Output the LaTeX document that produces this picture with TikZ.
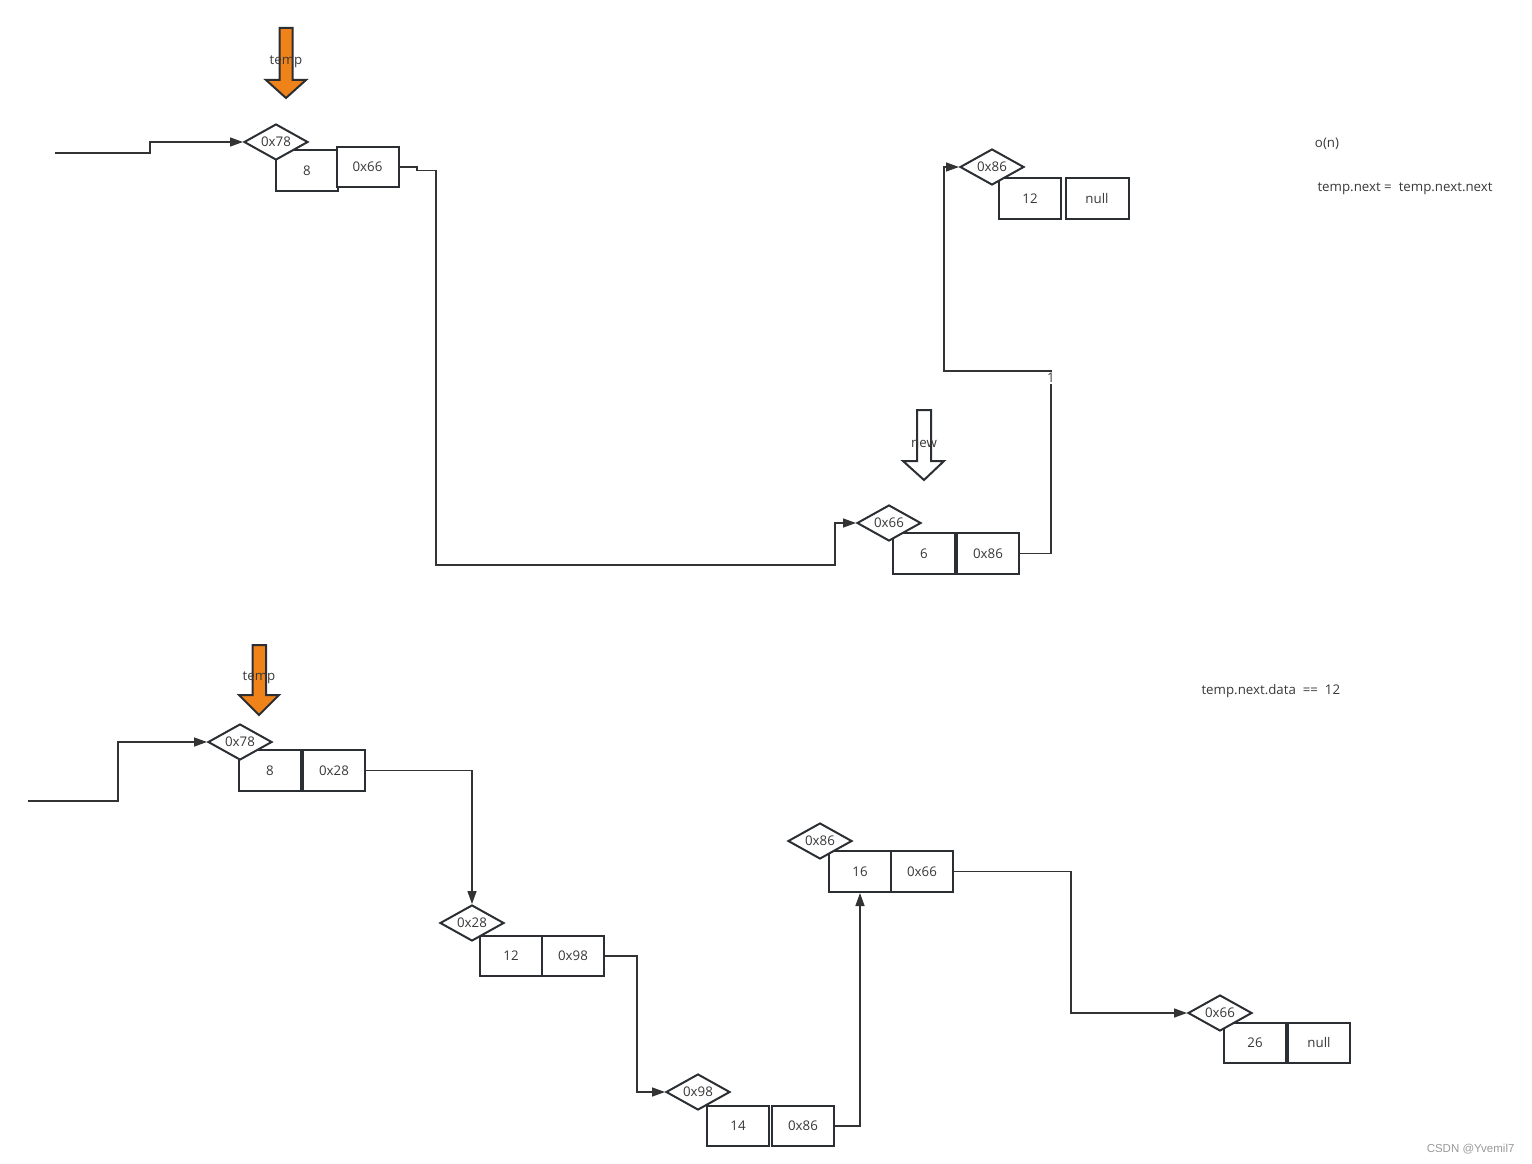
\documentclass[tikz,border=0pt]{standalone}
\usepackage{fontspec}
\setmainfont{Open Sans}
\newfontfamily\wmfont{Liberation Sans}
\usetikzlibrary{shapes.geometric,arrows.meta}
\definecolor{ink}{HTML}{2B2F33}
\definecolor{txt}{HTML}{383838}
\definecolor{wire}{HTML}{333333}
\definecolor{orangeA}{HTML}{F0821A}
\begin{document}
\begin{tikzpicture}[x=1pt,y=-1pt,
  every node/.style={font=\fontsize{13.3}{15}\selectfont, text=txt},
  cell/.style={draw=ink, line width=2pt, fill=white, minimum width=62pt, minimum height=41pt, inner sep=0pt},
  addr/.style={diamond, draw=ink, line width=2pt, fill=white, minimum width=64pt, minimum height=36pt, inner sep=0pt, aspect=1.8},
  link/.style={draw=wire, line width=1.4pt, -{Triangle[length=13pt,width=9pt]}},
  hot/.style={fill=orangeA, draw=ink, line width=2pt, line join=miter},
  cold/.style={fill=white, draw=ink, line width=2pt, line join=miter}
]
\useasboundingbox (0,0) rectangle (1532,1164);

% ---------- top part ----------
\filldraw[hot] (279.5,28) -- (292.5,28) -- (292.5,80) -- (306,80) -- (286,98) -- (266,80) -- (279.5,80) -- cycle;
\node (t1) at (286,62) {temp};

\node[cell] (b1v) at (307,170.5) {8};
\node[cell, minimum height=40pt] (b1n) at (367.5,167) {0x66};
\node[addr] (d1) at (276,142) {0x78};

\filldraw[cold] (917,410) -- (931,410) -- (931,461) -- (944,461) -- (924,480) -- (903,461) -- (917,461) -- cycle;
\node (nw) at (924,444) {new};

\node[cell] (b2v) at (924,553.5) {6};
\node[cell] (b2n) at (988,553.5) {0x86};
\node[addr] (d2) at (889,523) {0x66};

\node[cell] (b3v) at (1030,198.5) {12};
\node[cell, minimum width=63pt] (b3n) at (1097,198.5) {null};
\node[addr] (d3) at (992,167) {0x86};

\coordinate (s1) at (55,153);
\path[link] (s1) -- (150,153) |- (d1.west);
\path[link] (b1n.east) -- (417,167) -- (417,170.5) -- (436,170.5) -- (436,565) -- (835,565) |- (d2.west);
\path[link] (b2n.east) -- (1051,553.5) -- (1051,371) -- (944,371) |- (d3.west);
\node[fill=white, inner sep=1.5pt, text=black!75] (one) at (1051,378) {1};

\node (on) at (1327,144) {o(n)};
\node[anchor=west] (eq1) at (1314,189) {temp.next =\ \ temp.next.next};

% ---------- bottom part ----------
\filldraw[hot] (252.5,645) -- (266,645) -- (266,695) -- (279,695) -- (259,715) -- (239,695) -- (252.5,695) -- cycle;
\node (t2) at (259,678) {temp};

\node[cell] (b4v) at (270,770.5) {8};
\node[cell] (b4n) at (334,770.5) {0x28};
\node[addr] (d4) at (240,742) {0x78};

\node[cell, minimum height=40pt] (b5v) at (511,956) {12};
\node[cell, minimum height=40pt] (b5n) at (573,956) {0x98};
\node[addr] (d5) at (472,923) {0x28};

\node[cell, minimum height=40pt] (b6v) at (738,1126) {14};
\node[cell, minimum height=40pt] (b6n) at (803,1126) {0x86};
\node[addr] (d6) at (698,1092) {0x98};

\node[cell] (b7v) at (860,871.5) {16};
\node[cell] (b7n) at (922,871.5) {0x66};
\node[addr] (d7) at (820,841) {0x86};

\node[cell, minimum height=40pt] (b8v) at (1255,1043) {26};
\node[cell, minimum height=40pt] (b8n) at (1319,1043) {null};
\node[addr] (d8) at (1220,1013) {0x66};

\coordinate (s2) at (28,801);
\path[link] (s2) -- (118,801) |- (d4.west);
\path[link] (b4n.east) -| (d5.north);
\path[link] (b5n.east) -- (637,956) |- (d6.west);
\path[link] (b6n.east) -| (b7v.south);
\path[link] (b7n.east) -- (1071,871.5) |- (d8.west);

\node[anchor=west] (eq2) at (1198,691) {temp.next.data\ \ ==\ \ 12};

\node[anchor=east, text=black!40, font=\wmfont\fontsize{11.5}{13}\selectfont] (wm) at (1518,1149) {CSDN @Yvemil7};
\end{tikzpicture}
\end{document}
